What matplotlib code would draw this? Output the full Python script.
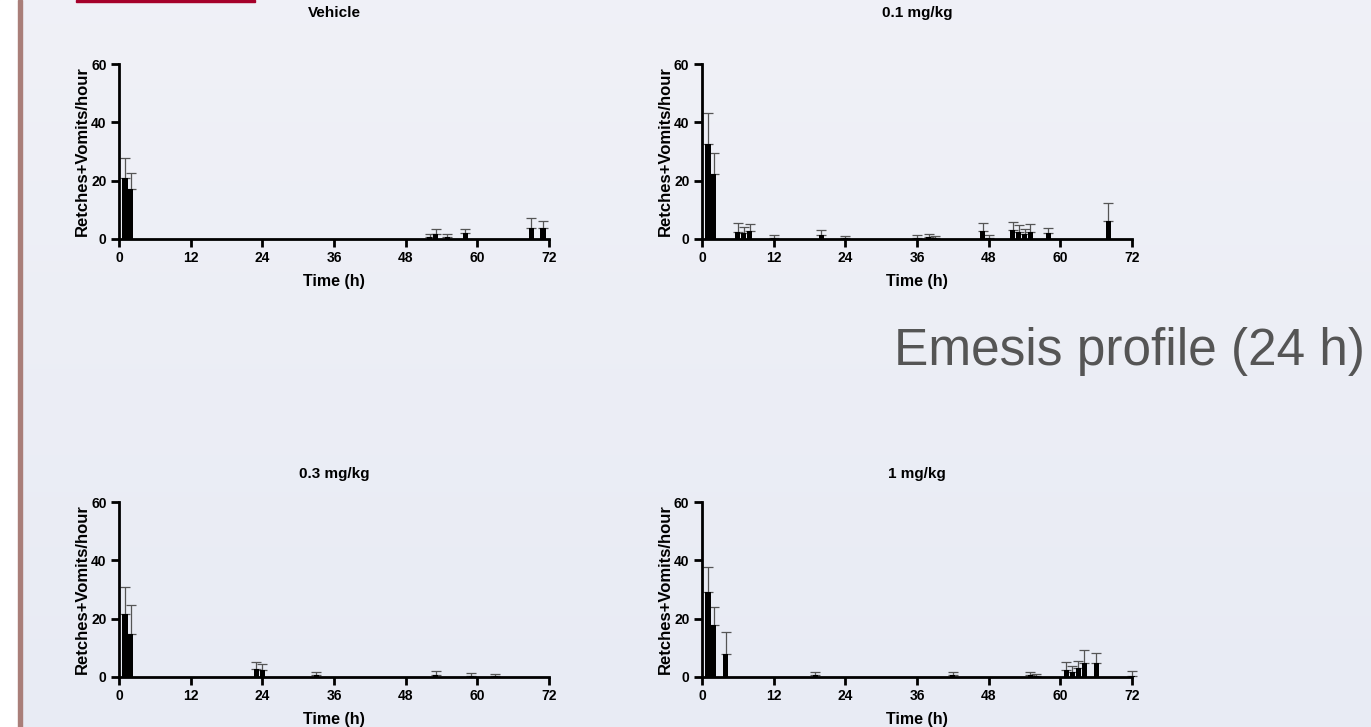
import numpy as np
import matplotlib.pyplot as plt

# ------------------------------
# Data (mean and upper error, retches+vomits per hour)
veh_t = [1, 2, 52, 53, 55, 58, 69, 71]
veh_mean = [20.8, 17.1, 0.8, 1.7, 0.8, 2.1, 3.7, 3.7]
veh_err = [7.1, 5.6, 1.0, 1.8, 1.0, 1.2, 3.6, 2.6]

d01_t = [1, 2, 6, 7, 8, 12, 20, 24, 36, 38, 39, 47, 48, 52, 53, 54, 55, 58, 68]
d01_mean = [32.6, 22.3, 2.5, 1.9, 2.7, 0.3, 1.3, 0.2, 0.2, 0.7, 0.5, 2.6, 0.5, 3.0, 2.3, 1.6, 2.4, 1.9, 6.2]
d01_err = [10.5, 7.1, 2.9, 2.3, 2.3, 1.2, 1.7, 0.9, 1.3, 1.1, 0.6, 2.9, 1.0, 2.9, 2.4, 1.9, 2.6, 1.8, 6.0]

d03_t = [1, 2, 23, 24, 33, 53, 59, 63]
d03_mean = [21.7, 14.9, 2.9, 2.3, 0.7, 0.8, 0.3, 0.2]
d03_err = [9.3, 9.9, 2.1, 2.0, 1.0, 1.3, 1.1, 0.7]

d1_t = [1, 2, 4, 19, 42, 55, 56, 61, 62, 63, 64, 66, 72]
d1_mean = [29.3, 17.7, 8.0, 0.6, 0.6, 0.6, 0.3, 2.5, 1.8, 3.0, 4.9, 4.7, 0.5]
d1_err = [8.4, 6.3, 7.5, 1.0, 1.1, 1.0, 0.6, 2.6, 2.0, 2.4, 4.4, 3.5, 1.6]

titles = ["Vehicle", "0.1 mg/kg", "0.3 mg/kg", "1 mg/kg"]
xticks = [0, 12, 24, 36, 48, 60, 72]
yticks = [0, 20, 40, 60]

W, H = 1371, 727
fig = plt.figure(figsize=(W / 100, H / 100), dpi=100)

# slide background with slight vertical gradient
bg = fig.add_axes([0, 0, 1, 1], zorder=-10)
grad = np.linspace(0, 1, 256).reshape(-1, 1)
top = np.array([0.941, 0.945, 0.969])
bot = np.array([0.910, 0.922, 0.957])
img = top + (bot - top) * grad[..., None]
bg.imshow(img, aspect='auto', extent=[0, 1, 0, 1])
bg.add_patch(plt.Rectangle((0, 0), 18 / W, 1, color='white'))
bg.add_patch(plt.Rectangle((18 / W, 0), 4 / W, 1, color='#a97e79'))
bg.add_patch(plt.Rectangle((76 / W, 1 - 2 / H), 179 / W, 2 / H, color='#a5002a'))
bg.set_xlim(0, 1)
bg.set_ylim(0, 1)
bg.axis('off')

fig.text(1365 / W, 1 - 351 / H, "Emesis profile (24 h)", ha='right', va='center',
         fontsize=37, color='#555555', family='Liberation Sans')

panels = [
    (veh_t, veh_mean, veh_err, [119, 64, 549, 239], 34),
    (d01_t, d01_mean, d01_err, [702, 64, 1132, 239], 34),
    (d03_t, d03_mean, d03_err, [119, 502, 549, 677], 17),
    (d1_t, d1_mean, d1_err, [702, 502, 1132, 677], 17),
]

for (t, m, e, box, tpad), title in zip(panels, titles):
    x0, y0, x1, y1 = box
    ax = fig.add_axes([x0 / W, 1 - y1 / H, (x1 - x0) / W, (y1 - y0) / H])
    ax.patch.set_alpha(0)
    ax.bar(t, m, width=0.85, color='black', zorder=3, clip_on=False)
    ax.errorbar(t, m, yerr=[np.zeros(len(e)), e], fmt='none', ecolor='#555555',
                elinewidth=0.9, capsize=3.5, capthick=0.9, zorder=2, clip_on=False)
    ax.set_xlim(0, 72)
    ax.set_ylim(0, 60)
    ax.set_xticks(xticks)
    ax.set_yticks(yticks)
    for s in ['top', 'right']:
        ax.spines[s].set_visible(False)
    for s in ['left', 'bottom']:
        ax.spines[s].set_linewidth(2)
    ax.tick_params(width=2, length=6, labelsize=10, pad=3)
    for lab in ax.get_xticklabels() + ax.get_yticklabels():
        lab.set_fontweight('bold')
        lab.set_family('Liberation Sans')
    ax.set_xlabel("Time (h)", fontsize=11.5, fontweight='bold', family='Liberation Sans', labelpad=6)
    ax.set_ylabel("Retches+Vomits/hour", fontsize=12, fontweight='bold', family='Liberation Sans', labelpad=1)
    ax.set_title(title, fontsize=11, fontweight='bold', family='Liberation Sans', pad=tpad)

fig.savefig("out.png", dpi=100)
